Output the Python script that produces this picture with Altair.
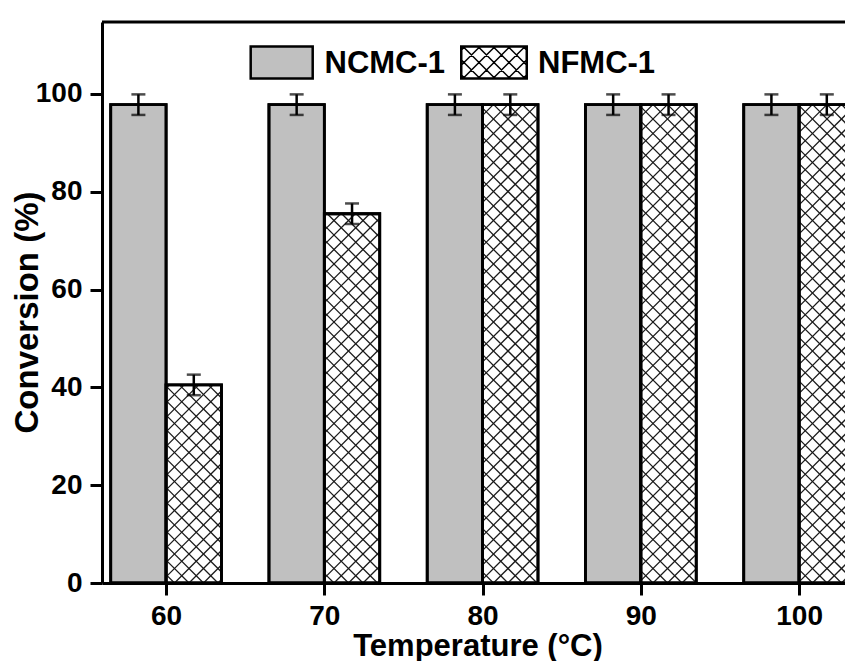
import altair as alt
import pandas as pd
import numpy as np

# ---------------- data ----------------
temps = [60, 70, 80, 90, 100]
ncmc = [97.8, 97.8, 97.8, 97.8, 97.8]
ncmc_err = [2.1, 2.1, 2.1, 2.1, 2.1]
nfmc = [40.5, 75.5, 97.8, 97.8, 97.8]
nfmc_err = [2.1, 2.1, 2.1, 2.1, 2.1]
series_names = ["NCMC-1", "NFMC-1"]
x_ticks = [60, 70, 80, 90, 100]
y_ticks = [0, 20, 40, 60, 80, 100]

# ---------------- layout / style ----------------
X_DOMAIN = [55.95, 102.9]
Y_DOMAIN = [0, 114.7]
W, H = 743, 561
PAD = {"left": 94, "top": 14, "right": 0, "bottom": 78}
BAR_W = 3.5          # bar width in temperature units
HATCH_P = 14.5       # hatch period in px (bars)
LEG_HATCH_P = 15.0   # hatch period in px (legend swatch)
FONT = "Liberation Sans"
GRAY = "#c0c0c0"

rows = []
for t, v, e in zip(temps, ncmc, ncmc_err):
    rows.append(dict(temp=t, series="NCMC-1", value=v, err=e, x0=t - BAR_W, x1=t))
for t, v, e in zip(temps, nfmc, nfmc_err):
    rows.append(dict(temp=t, series="NFMC-1", value=v, err=e, x0=t, x1=t + BAR_W))
df = pd.DataFrame(rows)
df["xc"] = (df["x0"] + df["x1"]) / 2
df["lo"] = df["value"] - df["err"]
df["hi"] = df["value"] + df["err"]

# ---------------- cross hatch for NFMC-1 bars (derived from bar values) ----------------
sx = W / (X_DOMAIN[1] - X_DOMAIN[0])
sy = H / (Y_DOMAIN[1] - Y_DOMAIN[0])
segs = []
for _, r in df[df.series == "NFMC-1"].iterrows():
    X0 = (r.x0 - X_DOMAIN[0]) * sx
    X1 = (r.x1 - X_DOMAIN[0]) * sx
    Y0, Y1 = 0.0, r.value * sy
    kmin = int(np.floor((X0 - Y1) / HATCH_P)) - 1
    kmax = int(np.ceil((X1 - Y0) / HATCH_P)) + 1
    for k in range(kmin, kmax + 1):
        c = k * HATCH_P
        lo, hi = max(Y0, X0 - c), min(Y1, X1 - c)
        if hi - lo > 0.5:
            segs.append(dict(xa=(lo + c) / sx + X_DOMAIN[0], ya=lo / sy,
                             xb=(hi + c) / sx + X_DOMAIN[0], yb=hi / sy))
    kmin = int(np.floor((X0 + Y0) / HATCH_P)) - 1
    kmax = int(np.ceil((X1 + Y1) / HATCH_P)) + 1
    for k in range(kmin, kmax + 1):
        c = k * HATCH_P
        lo, hi = max(Y0, c - X1), min(Y1, c - X0)
        if hi - lo > 0.5:
            segs.append(dict(xa=(c - lo) / sx + X_DOMAIN[0], ya=lo / sy,
                             xb=(c - hi) / sx + X_DOMAIN[0], yb=hi / sy))
hatch = pd.DataFrame(segs)


# ---------------- legend swatch paths ----------------
def rect(a, b):
    return f"M{-a:.4f},{-b:.4f}L{a:.4f},{-b:.4f}L{a:.4f},{b:.4f}L{-a:.4f},{b:.4f}Z"


def swatch_path(w_px, h_px, hatch_px=None):
    unit = w_px / 2.0
    hh = (h_px / 2.0) / unit
    ins = 1.0 / unit
    path = rect(1.0, hh) + rect(1.0 - ins, hh - ins)
    if hatch_px:
        p = hatch_px / unit
        ia, ib = 1.0 - ins, hh - ins
        for k in range(-10, 11):
            c = k * p
            lo, hi = max(-ib, -ia - c), min(ib, ia - c)
            if hi > lo:
                path += f"M{lo + c:.4f},{lo:.4f}L{hi + c:.4f},{hi:.4f}"
            lo, hi = max(-ib, c - ia), min(ib, c + ia)
            if hi > lo:
                path += f"M{c - lo:.4f},{lo:.4f}L{c - hi:.4f},{hi:.4f}"
    return path


legend_df = pd.DataFrame({"series": series_names})
# (series, swatch centre x, swatch width, fill, hatch period, label x) in plot-area pixels
legend_items = [
    ("NCMC-1", 179.7, 63.0, GRAY, None, 222.5),
    ("NFMC-1", 392.0, 66.5, "white", LEG_HATCH_P, 436.0),
]
LEG_Y = 40.5
LEG_H = 33.0
LEG_BASE = 51.3

xscale = alt.Scale(domain=X_DOMAIN, nice=False, zero=False)
yscale = alt.Scale(domain=Y_DOMAIN, nice=False, zero=False)

x_axis = alt.Axis(values=x_ticks, format="d", title="Temperature (°C)",
                  titleX=W / 2 + 4, titleY=72, titleAlign="center", titleBaseline="alphabetic",
                  titleFontSize=31, labelFlush=False, labelPadding=7)
y_axis = alt.Axis(values=y_ticks, format="d", title="Conversion (%)",
                  titleX=-65, titleY=290, titleAlign="center", titleBaseline="alphabetic",
                  titleAngle=-90, titleFontSize=33)

base = alt.Chart(df)

bars = base.mark_bar(stroke="black", strokeWidth=2.8, clip=True).encode(
    x=alt.X("x0:Q", scale=xscale, axis=x_axis),
    x2="x1:Q",
    y=alt.Y("value:Q", scale=yscale, axis=y_axis),
    y2=alt.datum(0),
    fill=alt.condition("datum.series == 'NCMC-1'", alt.value(GRAY), alt.value("white")),
)

hatch_lines = alt.Chart(hatch).mark_rule(color="#1a1a1a", strokeWidth=1.3, clip=True).encode(
    x=alt.X("xa:Q", scale=xscale), y=alt.Y("ya:Q", scale=yscale),
    x2="xb:Q", y2="yb:Q",
)

outlines = base.mark_bar(stroke="black", strokeWidth=2.8, fillOpacity=0, clip=True).encode(
    x=alt.X("x0:Q", scale=xscale), x2="x1:Q",
    y=alt.Y("value:Q", scale=yscale), y2=alt.datum(0),
)

err_rule = base.mark_rule(color="black", strokeWidth=2.5, clip=True).encode(
    x=alt.X("xc:Q", scale=xscale), y=alt.Y("lo:Q", scale=yscale), y2="hi:Q",
)
cap_lo = base.mark_tick(color="black", orient="horizontal", size=14, thickness=2.5, clip=True).encode(
    x=alt.X("xc:Q", scale=xscale), y=alt.Y("lo:Q", scale=yscale),
)
cap_hi = base.mark_tick(color="black", orient="horizontal", size=14, thickness=2.5, clip=True).encode(
    x=alt.X("xc:Q", scale=xscale), y=alt.Y("hi:Q", scale=yscale),
)

top_border = alt.Chart(legend_df.head(1)).mark_rule(color="black", strokeWidth=3).encode(
    x=alt.value(0), x2=alt.value(W), y=alt.value(0),
)

legend_layers = []
for name, cx, w, fill, hp, lx in legend_items:
    sub = alt.Chart(legend_df).transform_filter(f"datum.series == '{name}'")
    legend_layers.append(
        sub.mark_point(shape=swatch_path(w, LEG_H, hp), size=w * w, filled=True, fill=fill,
                       stroke="black", strokeWidth=1.5, opacity=1).encode(
            x=alt.value(cx), y=alt.value(LEG_Y))
    )
    legend_layers.append(
        sub.mark_text(align="left", baseline="alphabetic", font=FONT, fontSize=31,
                      fontWeight="bold", color="black").encode(
            text="series:N", x=alt.value(lx), y=alt.value(LEG_BASE))
    )

chart = alt.layer(bars, hatch_lines, outlines, err_rule, cap_lo, cap_hi, top_border,
                  *legend_layers).properties(
    width=W, height=H,
    autosize=alt.AutoSizeParams(type="none"),
    padding=PAD,
    background="white",
).configure_view(stroke=None).configure_axis(
    grid=False,
    labelFont=FONT, labelFontSize=28, labelFontWeight="bold", labelColor="black", labelPadding=8,
    titleFont=FONT, titleFontWeight="bold", titleColor="black",
    domainColor="black", domainWidth=3, tickColor="black", tickWidth=3, tickSize=12,
    labelOverlap=False,
)

chart.save("out.html", embed_options={"renderer": "svg", "actions": False})
